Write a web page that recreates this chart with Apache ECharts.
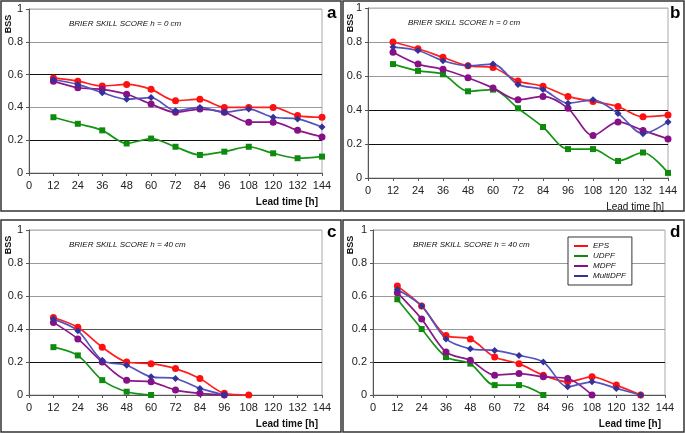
<!DOCTYPE html>
<html>
<head>
<meta charset="utf-8">
<script src="https://cdn.jsdelivr.net/npm/echarts@6/dist/echarts.min.js"></script>
<style>
html,body{margin:0;padding:0;background:#fff;}
#c{width:685px;height:433px;}
</style>
</head>
<body>
<div id="c"></div>
<script>
// ---- data ----
const leadTimes = [12, 24, 36, 48, 60, 72, 84, 96, 108, 120, 132, 144];
const yTicks = [0, 0.2, 0.4, 0.6, 0.8, 1];
const seriesNames = ['EPS', 'UDPF', 'MDPF', 'MultiDPF'];
const panelLetters = ['a', 'b', 'c', 'd'];
const panelTitles = ['BRIER SKILL SCORE h = 0 cm', 'BRIER SKILL SCORE h = 0 cm', 'BRIER SKILL SCORE h = 40 cm', 'BRIER SKILL SCORE h = 40 cm'];

// panel a (h = 0 cm)
const aEPS      = [0.58, 0.56, 0.53, 0.54, 0.51, 0.44, 0.45, 0.40, 0.40, 0.40, 0.35, 0.34];
const aUDPF     = [0.34, 0.30, 0.26, 0.18, 0.21, 0.16, 0.11, 0.13, 0.16, 0.12, 0.09, 0.10];
const aMDPF     = [0.56, 0.52, 0.51, 0.48, 0.42, 0.37, 0.39, 0.37, 0.31, 0.31, 0.26, 0.22];
const aMultiDPF = [0.57, 0.54, 0.49, 0.45, 0.46, 0.38, 0.40, 0.37, 0.39, 0.34, 0.33, 0.28];
// panel b (h = 0 cm)
const bEPS      = [0.80, 0.76, 0.71, 0.66, 0.65, 0.57, 0.54, 0.48, 0.45, 0.42, 0.36, 0.37];
const bUDPF     = [0.67, 0.63, 0.61, 0.51, 0.52, 0.41, 0.30, 0.17, 0.17, 0.10, 0.15, 0.03];
const bMDPF     = [0.74, 0.67, 0.64, 0.59, 0.53, 0.46, 0.48, 0.41, 0.25, 0.33, 0.28, 0.23];
const bMultiDPF = [0.77, 0.75, 0.69, 0.66, 0.67, 0.55, 0.52, 0.44, 0.46, 0.38, 0.26, 0.33];
// panel c (h = 40 cm)
const cEPS      = [0.47, 0.41, 0.29, 0.20, 0.19, 0.16, 0.10, 0.01, 0.00];
const cUDPF     = [0.29, 0.24, 0.09, 0.02, 0.00];
const cMDPF     = [0.44, 0.34, 0.20, 0.09, 0.08, 0.03, 0.01, 0.00];
const cMultiDPF = [0.46, 0.39, 0.21, 0.18, 0.11, 0.10, 0.04, 0.00];
// panel d (h = 40 cm)
const dEPS      = [0.66, 0.54, 0.36, 0.34, 0.23, 0.19, 0.12, 0.08, 0.11, 0.06, 0.00];
const dUDPF     = [0.58, 0.40, 0.23, 0.19, 0.06, 0.06, 0.00];
const dMDPF     = [0.62, 0.46, 0.26, 0.21, 0.12, 0.13, 0.11, 0.10, 0.00];
const dMultiDPF = [0.64, 0.54, 0.34, 0.28, 0.27, 0.24, 0.20, 0.05, 0.08, 0.04, 0.00];

// ---- styling ----
const FONT = 'Arial, "Liberation Sans", sans-serif';
const styles = {
  'EPS':      {color: '#ff1f1f', mark: '#ff1010', symbol: 'circle', size: 7},
  'UDPF':     {color: '#139413', mark: '#0f8a0f', symbol: 'rect', size: 6},
  'MDPF':     {color: '#8c168c', mark: '#861086', symbol: 'circle', size: 7},
  'MultiDPF': {color: '#5353bb', mark: '#32329a', symbol: 'diamond', size: 7}
};
const panelData = [
  [aEPS, aUDPF, aMDPF, aMultiDPF],
  [bEPS, bUDPF, bMDPF, bMultiDPF],
  [cEPS, cUDPF, cMDPF, cMultiDPF],
  [dEPS, dUDPF, dMDPF, dMultiDPF]
];
const grids = [
  {left: 29, top: 9, width: 293, height: 164},
  {left: 368, top: 8, width: 300, height: 170},
  {left: 29, top: 230, width: 293, height: 165},
  {left: 373, top: 230, width: 292, height: 165}
];
const splitColors = [
  ['#999', '#111', '#999', '#111', '#999', '#bbb'],
  ['#999', '#111', '#111', '#999', '#999', '#bbb'],
  ['#999', '#111', '#555', '#999', '#999', '#bbb'],
  ['#999', '#111', '#999', '#999', '#999', '#bbb']
];
const frames = [
  {x: 1, y: 1, w: 340, h: 210},
  {x: 343, y: 1, w: 341, h: 210},
  {x: 1, y: 220, w: 340, h: 212},
  {x: 343, y: 220, w: 341, h: 212}
];

const xAxes = [], yAxes = [], series = [], graphics = [];
grids.forEach((g, i) => {
  xAxes.push({
    gridIndex: i, type: 'value', min: 0, max: 144, interval: 12,
    axisLine: {lineStyle: {color: '#555', width: 1}},
    axisTick: {show: true, length: 3, lineStyle: {color: '#555'}},
    axisLabel: {color: '#222', fontSize: 11, fontFamily: FONT, margin: 7},
    splitLine: {show: false}
  });
  yAxes.push({
    gridIndex: i, type: 'value', min: 0, max: 1, interval: 0.2,
    axisLine: {show: true, lineStyle: {color: '#555', width: 1}},
    axisTick: {show: true, length: 3, lineStyle: {color: '#555'}},
    axisLabel: {color: '#222', fontSize: 11, fontFamily: FONT, margin: 6},
    splitLine: {show: true, lineStyle: {color: splitColors[i], width: 1}}
  });
  panelData[i].forEach((vals, k) => {
    const name = seriesNames[k];
    const st = styles[name];
    series.push({
      name: name, type: 'line', xAxisIndex: i, yAxisIndex: i,
      data: vals.map((v, j) => [leadTimes[j], v]),
      smooth: 0.3,
      symbol: st.symbol, symbolSize: st.size,
      lineStyle: {color: st.color, width: 1.7},
      itemStyle: {color: st.mark},
      color: st.color,
      animation: false
    });
  });
  const f = frames[i];
  graphics.push({type: 'rect', shape: {x: f.x, y: f.y, width: f.w, height: f.h},
    style: {fill: 'none', stroke: '#333', lineWidth: 1.5}, silent: true});
  // panel letter
  graphics.push({type: 'text', x: f.x + f.w - 14, y: f.y + 4,
    style: {text: panelLetters[i], font: 'bold 17px ' + FONT, fill: '#000'}});
  // title
  graphics.push({type: 'text', x: g.left + 40, y: g.top + 11,
    style: {text: panelTitles[i], font: 'italic 8px ' + FONT, fill: '#111'}});
  // y axis name
  graphics.push({type: 'text', x: f.x + 8, y: g.top + 15, rotation: Math.PI / 2,
    style: {text: 'BSS', font: 'bold 9px ' + FONT, fill: '#111', align: 'center', verticalAlign: 'middle'}});
  // x axis name
  graphics.push({type: 'text', x: g.left + g.width - 4, y: g.top + g.height + 24,
    style: {text: 'Lead time [h]', font: (i === 1 ? '' : 'bold ') + '10px ' + FONT, fill: '#111', align: 'right'}});
});

const gridOpts = grids.map(g => Object.assign({show: true, borderColor: '#aaa', borderWidth: 1}, g));

const chart = echarts.init(document.getElementById('c'), null, {renderer: 'canvas'});
chart.setOption({
  animation: false,
  backgroundColor: '#fff',
  grid: gridOpts,
  xAxis: xAxes,
  yAxis: yAxes,
  series: series,
  legend: {
    data: seriesNames, orient: 'vertical', left: 568, top: 237,
    icon: 'rect', itemWidth: 14, itemHeight: 2, itemGap: 2,
    padding: [5, 6, 5, 6],
    borderColor: '#333', borderWidth: 1, backgroundColor: '#fff',
    textStyle: {fontSize: 8, fontStyle: 'italic', fontFamily: FONT, color: '#111', lineHeight: 8},
    selectedMode: false
  },
  graphic: graphics
});
</script>
</body>
</html>
